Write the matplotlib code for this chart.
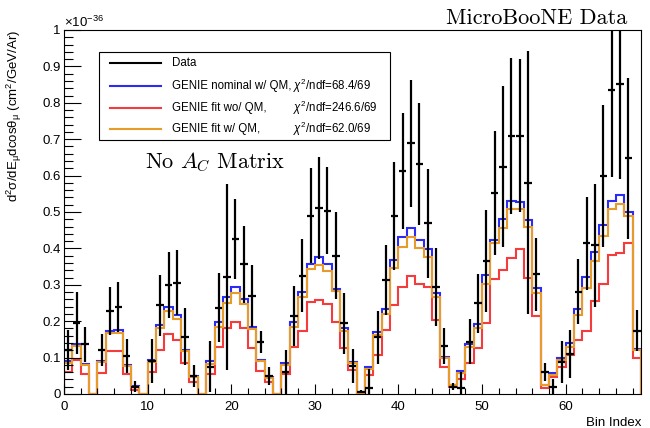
import numpy as np
import matplotlib
matplotlib.use("Agg")
import matplotlib.pyplot as plt
from matplotlib.patches import Rectangle
from matplotlib.ticker import MultipleLocator, FuncFormatter

plt.rcParams["font.family"] = ["Liberation Sans", "DejaVu Sans"]
plt.rcParams["mathtext.fontset"] = "custom"
plt.rcParams["mathtext.rm"] = "Liberation Sans"
plt.rcParams["mathtext.it"] = "Liberation Sans:italic"
plt.rcParams["mathtext.bf"] = "Liberation Sans:bold"

# cross section per bin, in units of 1e-36 cm2/GeV/Ar
n_bins = 69
bin_edges = np.arange(n_bins + 1)
nan = np.nan

data = [0.121, 0.194, 0.136, nan, 0.121, 0.228, 0.240, 0.105, 0.020, nan,
        0.091, 0.244, 0.300, 0.306, 0.157, 0.049, nan, 0.075, 0.237, 0.322,
        0.426, 0.356, 0.270, 0.142, 0.050, nan, 0.060, 0.215, 0.325, 0.490,
        0.512, 0.504, 0.380, 0.194, 0.077, 0.006, 0.016, 0.156, 0.313, 0.490,
        0.613, 0.689, 0.632, 0.469, 0.295, 0.132, 0.020, 0.016, 0.144, 0.249,
        0.365, 0.553, 0.625, 0.709, 0.709, 0.581, 0.329, 0.060, 0.020, 0.087,
        0.110, 0.281, 0.414, 0.408, 0.600, 0.835, 0.852, 0.647, 0.174]
data_err = [0.056, 0.085, 0.047, 0.0, 0.044, 0.066, 0.069, 0.046, 0.015, 0.0,
            0.060, 0.084, 0.090, 0.090, 0.078, 0.030, 0.0, 0.070, 0.095, 0.256,
            0.110, 0.105, 0.085, 0.030, 0.025, 0.0, 0.060, 0.082, 0.100, 0.130,
            0.140, 0.120, 0.120, 0.084, 0.046, 0.004, 0.054, 0.073, 0.096, 0.148,
            0.160, 0.175, 0.168, 0.150, 0.107, 0.049, 0.010, 0.045, 0.062, 0.081,
            0.140, 0.170, 0.220, 0.215, 0.210, 0.360, 0.100, 0.025, 0.020, 0.058,
            0.066, 0.089, 0.128, 0.168, 0.195, 0.240, 0.260, 0.220, 0.056]
genie_nominal_qm = [0.091, 0.137, 0.083, 0.0, 0.091, 0.174, 0.176, 0.080, 0.023, 0.0,
                    0.093, 0.190, 0.238, 0.218, 0.122, 0.049, 0.0, 0.091, 0.198, 0.266,
                    0.295, 0.262, 0.185, 0.093, 0.046, 0.0, 0.086, 0.198, 0.279, 0.357,
                    0.377, 0.357, 0.288, 0.180, 0.089, 0.0, 0.073, 0.169, 0.233, 0.368,
                    0.432, 0.457, 0.423, 0.397, 0.277, 0.103, 0.025, 0.064, 0.137, 0.191,
                    0.328, 0.423, 0.480, 0.531, 0.527, 0.478, 0.292, 0.025, 0.059, 0.100,
                    0.141, 0.233, 0.321, 0.389, 0.464, 0.531, 0.547, 0.501, 0.125]
genie_fit_noqm = [0.061, 0.093, 0.055, 0.0, 0.059, 0.119, 0.119, 0.054, 0.012, 0.0,
                  0.061, 0.121, 0.164, 0.149, 0.084, 0.034, 0.0, 0.055, 0.130, 0.181,
                  0.199, 0.180, 0.126, 0.064, 0.032, 0.0, 0.055, 0.130, 0.173, 0.252,
                  0.258, 0.247, 0.199, 0.127, 0.066, 0.0, 0.052, 0.107, 0.176, 0.245,
                  0.295, 0.325, 0.301, 0.295, 0.203, 0.075, 0.018, 0.040, 0.084, 0.127,
                  0.196, 0.316, 0.341, 0.373, 0.398, 0.318, 0.214, 0.017, 0.048, 0.075,
                  0.107, 0.148, 0.174, 0.256, 0.302, 0.382, 0.386, 0.414, 0.098]
genie_fit_qm = [0.086, 0.133, 0.080, 0.0, 0.087, 0.168, 0.168, 0.077, 0.020, 0.0,
                0.089, 0.180, 0.227, 0.205, 0.119, 0.047, 0.0, 0.083, 0.185, 0.251,
                0.277, 0.246, 0.178, 0.090, 0.044, 0.0, 0.080, 0.185, 0.267, 0.343,
                0.354, 0.339, 0.282, 0.173, 0.085, 0.0, 0.068, 0.163, 0.220, 0.345,
                0.405, 0.432, 0.400, 0.377, 0.267, 0.099, 0.024, 0.059, 0.128, 0.180,
                0.301, 0.414, 0.455, 0.508, 0.508, 0.460, 0.278, 0.024, 0.053, 0.093,
                0.130, 0.217, 0.290, 0.366, 0.434, 0.508, 0.521, 0.489, 0.121]

legend_names = ["Data", "GENIE nominal w/ QM,", "GENIE fit wo/ QM,", "GENIE fit w/ QM,"]
legend_chi2 = ["", r"$\chi^{2}$/ndf=68.4/69", r"$\chi^{2}$/ndf=246.6/69", r"$\chi^{2}$/ndf=62.0/69"]

c_blue = "#2b2bf5"
c_red = "#f53c3c"
c_orange = "#e79b2a"

fig = plt.figure(figsize=(6.5, 4.28), dpi=100)
ax = fig.add_axes([64 / 650, 1 - 394 / 428, 577 / 650, 364 / 428])

ax.stairs(genie_nominal_qm, bin_edges, color=c_blue, lw=1.5)
ax.stairs(genie_fit_noqm, bin_edges, color=c_red, lw=1.5)
ax.stairs(genie_fit_qm, bin_edges, color=c_orange, lw=1.5)

centers = bin_edges[:-1] + 0.5
ax.errorbar(centers, data, yerr=data_err, xerr=0.45, fmt="none",
            ecolor="black", elinewidth=1.6, capsize=0, zorder=5)

ax.set_xlim(0, 69)
ax.set_ylim(0, 1)
ax.xaxis.set_major_locator(MultipleLocator(10))
ax.xaxis.set_minor_locator(MultipleLocator(2))
ax.yaxis.set_major_locator(MultipleLocator(0.1))
ax.yaxis.set_minor_locator(MultipleLocator(0.02))
ax.yaxis.set_major_formatter(FuncFormatter(lambda v, _: f"{v:g}"))
ax.tick_params(axis="both", which="both", direction="in", top=False, right=False,
               labelsize=9.5, width=0.8)
ax.tick_params(axis="y", which="major", length=12, pad=2.5)
ax.tick_params(axis="y", which="minor", length=6.5)
ax.tick_params(axis="x", which="major", length=7.5, pad=5)
ax.tick_params(axis="x", which="minor", length=4)
for s in ax.spines.values():
    s.set_linewidth(0.8)

ax.set_xlabel("Bin Index", loc="right", fontsize=9.5, labelpad=3)
fig.text(14 / 650, 1 - 30 / 428,
         r"d$^{2}$σ/dE$_{\mathrm{μ}}$dcosθ$_{\mathrm{μ}}$ (cm$^{2}$/GeV/Ar)",
         rotation=90, ha="center", va="top", fontsize=9.5)
fig.text(64 / 650, 1 - 27 / 428, r"$\times$10$^{-36}$", ha="left", va="baseline", fontsize=9.5)
fig.text(627 / 650, 1 - 18 / 428, "MicroBooNE Data", family="cmr10",
         ha="right", va="center", fontsize=16)
ax.text(0.262, 0.637, r"No $A_C$ Matrix", transform=ax.transAxes, family="cmr10",
        math_fontfamily="cm", ha="center", va="center", fontsize=16)

# legend box
ax.add_patch(Rectangle((0.0607, 0.6978), 0.5043, 0.2418, transform=ax.transAxes,
                       facecolor="white", edgecolor="black", lw=0.8, zorder=6))
rows_y = [0.9085, 0.847, 0.7865, 0.728]
for y, name, chi, col in zip(rows_y, legend_names, legend_chi2,
                             ["black", c_blue, c_red, c_orange]):
    ax.plot([0.0797, 0.168], [y, y], color=col, lw=1.5, transform=ax.transAxes, zorder=7)
    ax.text(0.1867, y, name, transform=ax.transAxes, va="center", ha="left",
            fontsize=8.3, zorder=7)
    if chi:
        ax.text(0.397, y, chi, transform=ax.transAxes, va="center", ha="left",
                fontsize=8.3, zorder=7)

fig.savefig("out.png", dpi=100)
